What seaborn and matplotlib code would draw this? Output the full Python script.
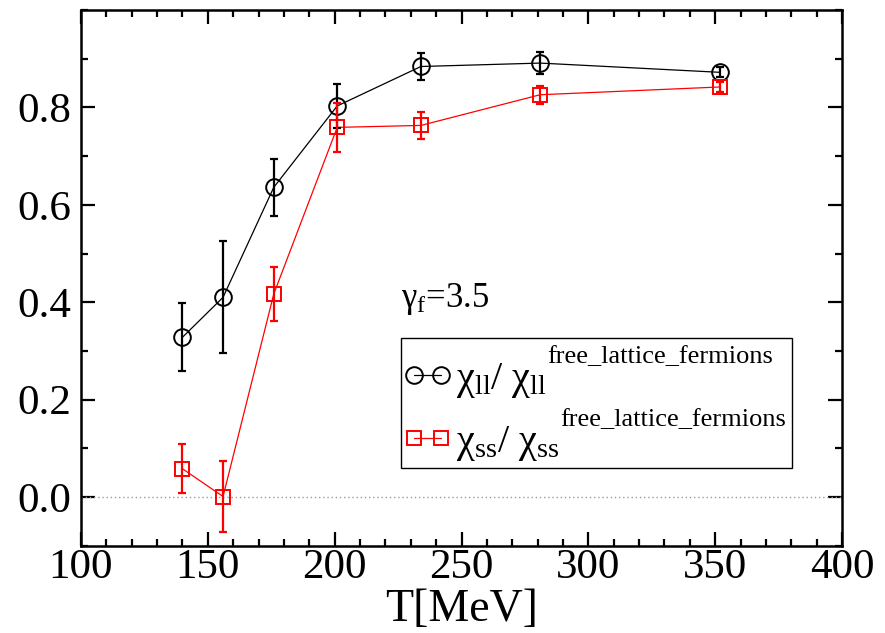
import numpy as np
import pandas as pd
import matplotlib
matplotlib.use("Agg")
import matplotlib.pyplot as plt
from matplotlib.patches import Rectangle
from matplotlib.transforms import Bbox
import seaborn as sns

# Susceptibility ratios vs temperature
temps = [140, 156, 176, 201, 234, 281, 352]
chi_ll = [0.328, 0.410, 0.636, 0.803, 0.884, 0.891, 0.872]
chi_ll_err = [0.070, 0.115, 0.059, 0.045, 0.028, 0.022, 0.010]
chi_ss = [0.058, 0.001, 0.417, 0.759, 0.763, 0.826, 0.842]
chi_ss_err = [0.050, 0.072, 0.055, 0.050, 0.028, 0.018, 0.010]

x_ticks = [100, 150, 200, 250, 300, 350, 400]
y_ticks = [0.0, 0.2, 0.4, 0.6, 0.8]

label_ll = r"$\mathrm{\chi}_{\rm ll}/\ \mathrm{\chi}_{\rm ll}$"
label_ss = r"$\mathrm{\chi}_{\rm ss}/\ \mathrm{\chi}_{\rm ss}$"
sup_text = "free_lattice_fermions"

df = pd.DataFrame({"T": temps, "ll": chi_ll, "ss": chi_ss})

sns.set_theme(style="ticks")
plt.rcParams["font.family"] = ["Liberation Serif", "DejaVu Serif"]
plt.rcParams["mathtext.fontset"] = "custom"
plt.rcParams["mathtext.rm"] = "Liberation Serif"
plt.rcParams["mathtext.it"] = "Liberation Serif:italic"
plt.rcParams["mathtext.bf"] = "Liberation Serif:bold"
for key in ("text.color", "axes.labelcolor", "xtick.color", "ytick.color",
            "axes.edgecolor"):
    plt.rcParams[key] = "black"

fig = plt.figure(figsize=(8.85, 6.33), dpi=100)
ax = fig.add_axes([0.0915, 0.1379, 0.86, 0.8463])

# zero reference line
ax.axhline(0.0, color="#999999", lw=1.0, ls=(0, (1, 2)), zorder=1)

sns.lineplot(data=df, x="T", y="ll", ax=ax, color="black", lw=0.9,
             marker="o", markersize=12, markerfacecolor="none",
             markeredgecolor="black", markeredgewidth=1.4, label=label_ll,
             zorder=3)
sns.lineplot(data=df, x="T", y="ss", ax=ax, color="red", lw=0.9,
             marker="s", markersize=10.5, markerfacecolor="none",
             markeredgecolor="red", markeredgewidth=1.4, label=label_ss,
             zorder=3)

ax.errorbar(temps, chi_ll, yerr=chi_ll_err, fmt="none", ecolor="black",
            elinewidth=1.6, capsize=3, capthick=1.6, zorder=4)
ax.errorbar(temps, chi_ss, yerr=chi_ss_err, fmt="none", ecolor="red",
            elinewidth=1.6, capsize=3, capthick=1.6, zorder=4)

ax.set_xlim(100, 400)
ax.set_ylim(-0.1, 1.0)
ax.set_xticks(x_ticks)
ax.set_xticklabels([str(v) for v in x_ticks])
ax.set_yticks(y_ticks)
ax.set_yticklabels([f"{v:.1f}" for v in y_ticks])
ax.xaxis.set_minor_locator(matplotlib.ticker.MultipleLocator(10))
ax.yaxis.set_minor_locator(matplotlib.ticker.MultipleLocator(0.1))
ax.tick_params(which="both", direction="in", top=True, right=True,
               width=1.6, colors="black", labelsize=31)
ax.tick_params(which="major", length=10)
ax.tick_params(axis="x", which="major", pad=2)
ax.tick_params(axis="y", which="major", pad=7)
ax.tick_params(which="minor", length=5)
for sp in ax.spines.values():
    sp.set_visible(True)
    sp.set_linewidth(1.8)
    sp.set_color("black")

ax.set_xlabel("T[MeV]", fontsize=33, labelpad=1)
ax.set_ylabel("")

ax.text(226.0, 0.39, r"$\mathrm{\gamma}_{\rm f}$=3.5", fontsize=25,
        ha="left", va="baseline")

leg = ax.legend(loc="upper left", bbox_to_anchor=(0.4223, 0.345),
                fontsize=29, numpoints=2, handlelength=1.27,
                handletextpad=0.05, labelspacing=0.6,
                frameon=False, borderaxespad=0.0, borderpad=0.0)
leg.set_zorder(6)

# superscripts follow each legend label, then a frame around everything
fig.canvas.draw()
renderer = fig.canvas.get_renderer()
to_axes = ax.transAxes.inverted()
boxes = [leg.get_window_extent(renderer)]
for txt in leg.get_texts():
    bb = txt.get_window_extent(renderer)
    xa, ya = to_axes.transform((bb.x1 + 1, bb.y1 - 2))
    s = ax.text(xa, ya, sup_text, fontsize=19, ha="left", va="baseline",
                transform=ax.transAxes, zorder=7)
    boxes.append(s.get_window_extent(renderer))
full = Bbox.union(boxes)
(x0, y0) = to_axes.transform((full.x0 - 1, full.y0 - 5))
(x1, y1) = to_axes.transform((full.x1 + 6, full.y1 + 8))
ax.add_patch(Rectangle((x0, y0), x1 - x0, y1 - y0, transform=ax.transAxes,
                       facecolor="white", edgecolor="black", linewidth=1.0,
                       zorder=5, clip_on=False))

fig.savefig("out.png", dpi=100)
